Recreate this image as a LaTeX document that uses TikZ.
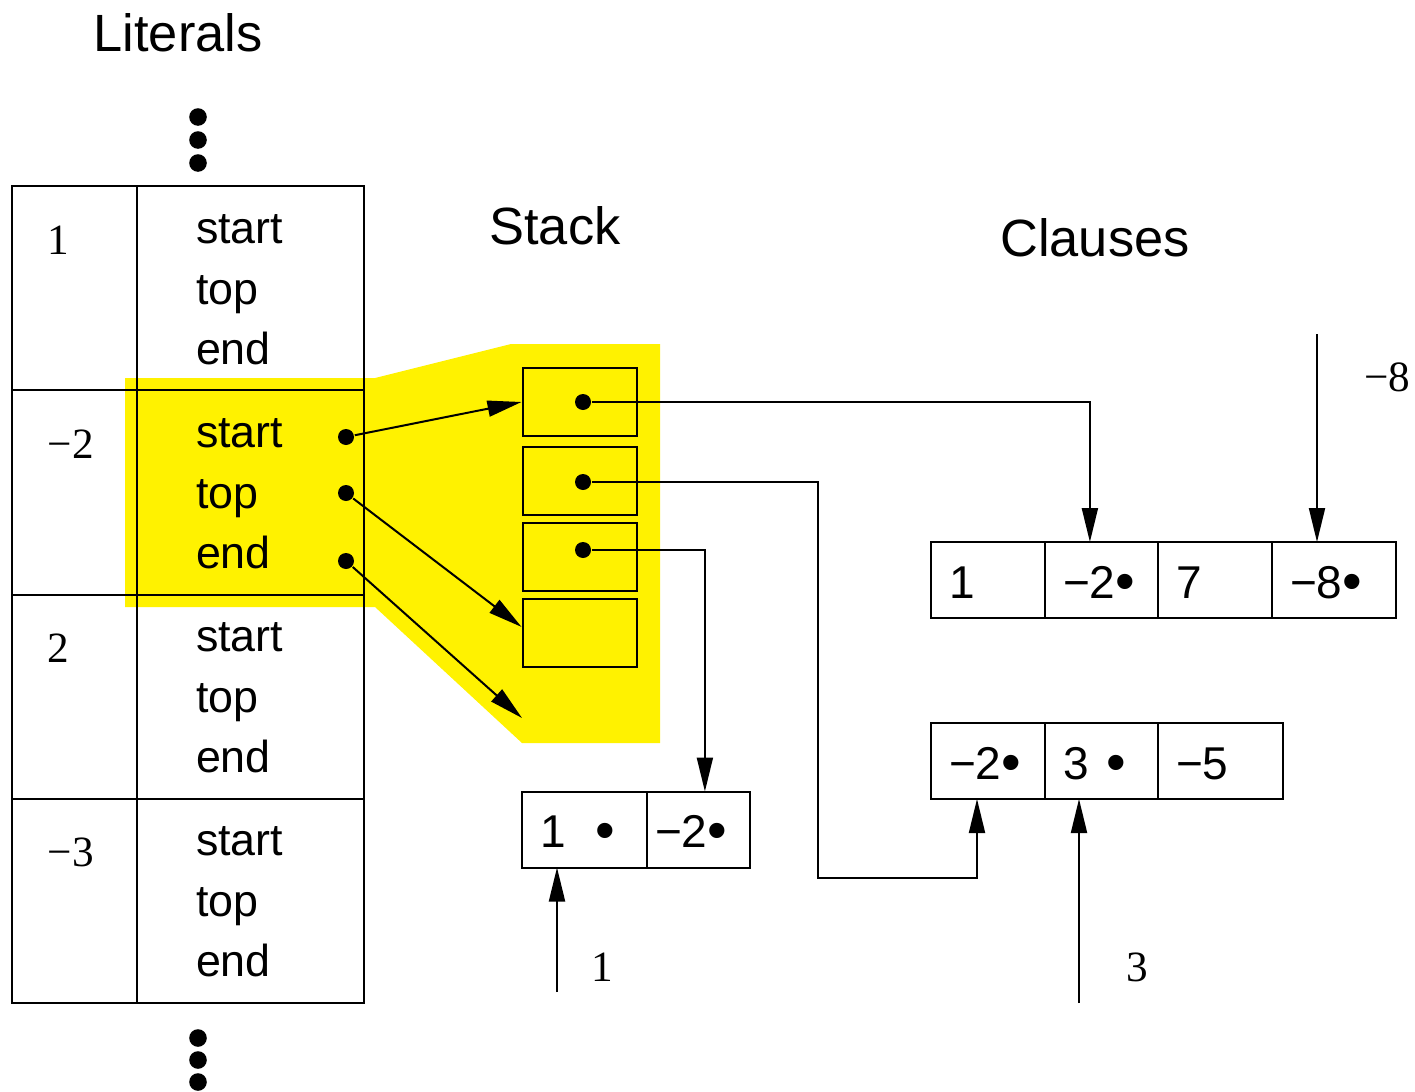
\documentclass[tikz,border=0pt]{standalone}
\usepackage{fontspec}
\setmainfont{Liberation Serif}
\setsansfont{Liberation Sans}
\usetikzlibrary{arrows.meta,positioning}
\newcommand\headfont{\sffamily\fontsize{13.1pt}{15pt}\selectfont}
\newcommand\fieldfont{\sffamily\fontsize{11.2pt}{13pt}\selectfont}
\newcommand\cellfont{\sffamily\fontsize{11.5pt}{13pt}\selectfont}
\newcommand\numfont{\rmfamily\fontsize{10.8pt}{13pt}\selectfont}
\newcommand\bul{\raisebox{-0.6pt}{\fontsize{14pt}{14pt}\selectfont•}}
\begin{document}
\begin{tikzpicture}[
  x=0.25pt, y=-0.25pt,
  line width=0.5pt,
  heading/.style={font=\headfont, inner sep=0pt},
  field/.style={font=\fieldfont, anchor=base west, inner sep=0pt},
  litnum/.style={font=\numfont, anchor=base west, inner sep=0pt},
  ptr/.style={circle, fill, minimum size=4pt, inner sep=0pt},
  stackbox/.style={draw, minimum width=28.5pt, minimum height=17pt, inner sep=0pt},
  cell/.style={draw, minimum height=19pt, inner xsep=4.5pt, inner ysep=0pt, outer sep=0pt,
    text width=#1, align=left, text height=9pt, text depth=0pt, font=\cellfont},
  cell/.default=19.5pt,
  link/.style={-{Triangle[length=8.5pt,width=4pt]}}
]
\useasboundingbox (0,0) rectangle (1415,1092);

% highlighted entry and its stack
\fill[yellow] (125,378) -- (375,378) -- (511,344) -- (660,344) -- (660,743)
  -- (522,743) -- (375,607) -- (125,607) -- cycle;

% literal table
\node[heading] (tlit) at (178,33) {Literals};
\foreach \y in {117,140,163,1038,1060,1082}
  \fill (198,\y) circle[radius=2.2pt];
\draw (12,186) rectangle (364,1003);
\draw (137,186) -- (137,1003);
\foreach \y in {390,595,799}
  \draw (12,\y) -- (364,\y);
\foreach \lit [count=\i from 0] in {1,−2,2,−3} {
  \node[litnum] (lit\i) at (47,254+204.25*\i) {\lit};
  \node[field] (st\i) at (195,243+204.25*\i) {start};
  \node[field] (tp\i) at (195,304+204.25*\i) {top};
  \node[field] (en\i) at (195,364+204.25*\i) {end};
}
\node[ptr] (pst) at (346,437) {};
\node[ptr] (ptp) at (346,493) {};
\node[ptr] (pen) at (346,561) {};

% stack
\node[heading] (tstk) at (555,226) {Stack};
\node[stackbox] (s1) at (579.5,402) {};
\node[stackbox] (s2) at (579.5,481) {};
\node[stackbox] (s3) at (579.5,557) {};
\node[stackbox] (s4) at (579.5,632.5) {};
\node[ptr] (q1) at (583,402) {};
\node[ptr] (q2) at (583,482) {};
\node[ptr] (q3) at (583,550) {};
\coordinate (stkend) at (522,718);

\draw[link] (pst) -- (s1.west);
\draw[link] (ptp) -- ([yshift=1.4pt]s4.west);
\draw[link] (pen) -- (stkend);

% clauses
\node[heading] (tcl) at (1095,238) {Clauses};
\node[cell, anchor=west] (c11) at (931,580) {1};
\node[cell=19.25pt, right=0pt of c11] (c12) {−2\bul};
\node[cell, right=0pt of c12] (c13) {7};
\node[cell=22pt, right=0pt of c13] (c14) {−8\bul};

\node[cell, anchor=west] (c21) at (931,761) {−2\bul};
\node[cell=19.25pt, right=0pt of c21] (c22) {3\hspace{0.4em}\bul};
\node[cell=22.25pt, right=0pt of c22] (c23) {−5};

\node[cell=22.25pt, anchor=west] (b11) at (522,829.5) {1\hspace{0.65em}\bul};
\node[cell=21.75pt, inner xsep=2pt, right=0pt of b11] (b12) {−2\bul};

\coordinate (bend) at (818,878);
\draw[link] (q1) -| ([xshift=-2.9pt]c12.north);
\draw[link] (q2) -| (bend) -| ([xshift=-2.75pt]c21.south);
\draw[link] (q3) -| ([xshift=1.6pt]b12.north);

% watched literals
\coordinate (m8) at (1317,334);
\draw[link] (m8) -- (m8 |- c14.north);
\node[litnum] (l8) at (1363,391) {−8};
\coordinate (n3) at (1079,1003);
\draw[link] (n3) -- (n3 |- c22.south);
\node[litnum] (l3) at (1125,981) {3};
\coordinate (n1) at (557,992);
\draw[link] (n1) -- (n1 |- b11.south);
\node[litnum] (l1) at (590,981) {1};
\end{tikzpicture}
\end{document}
